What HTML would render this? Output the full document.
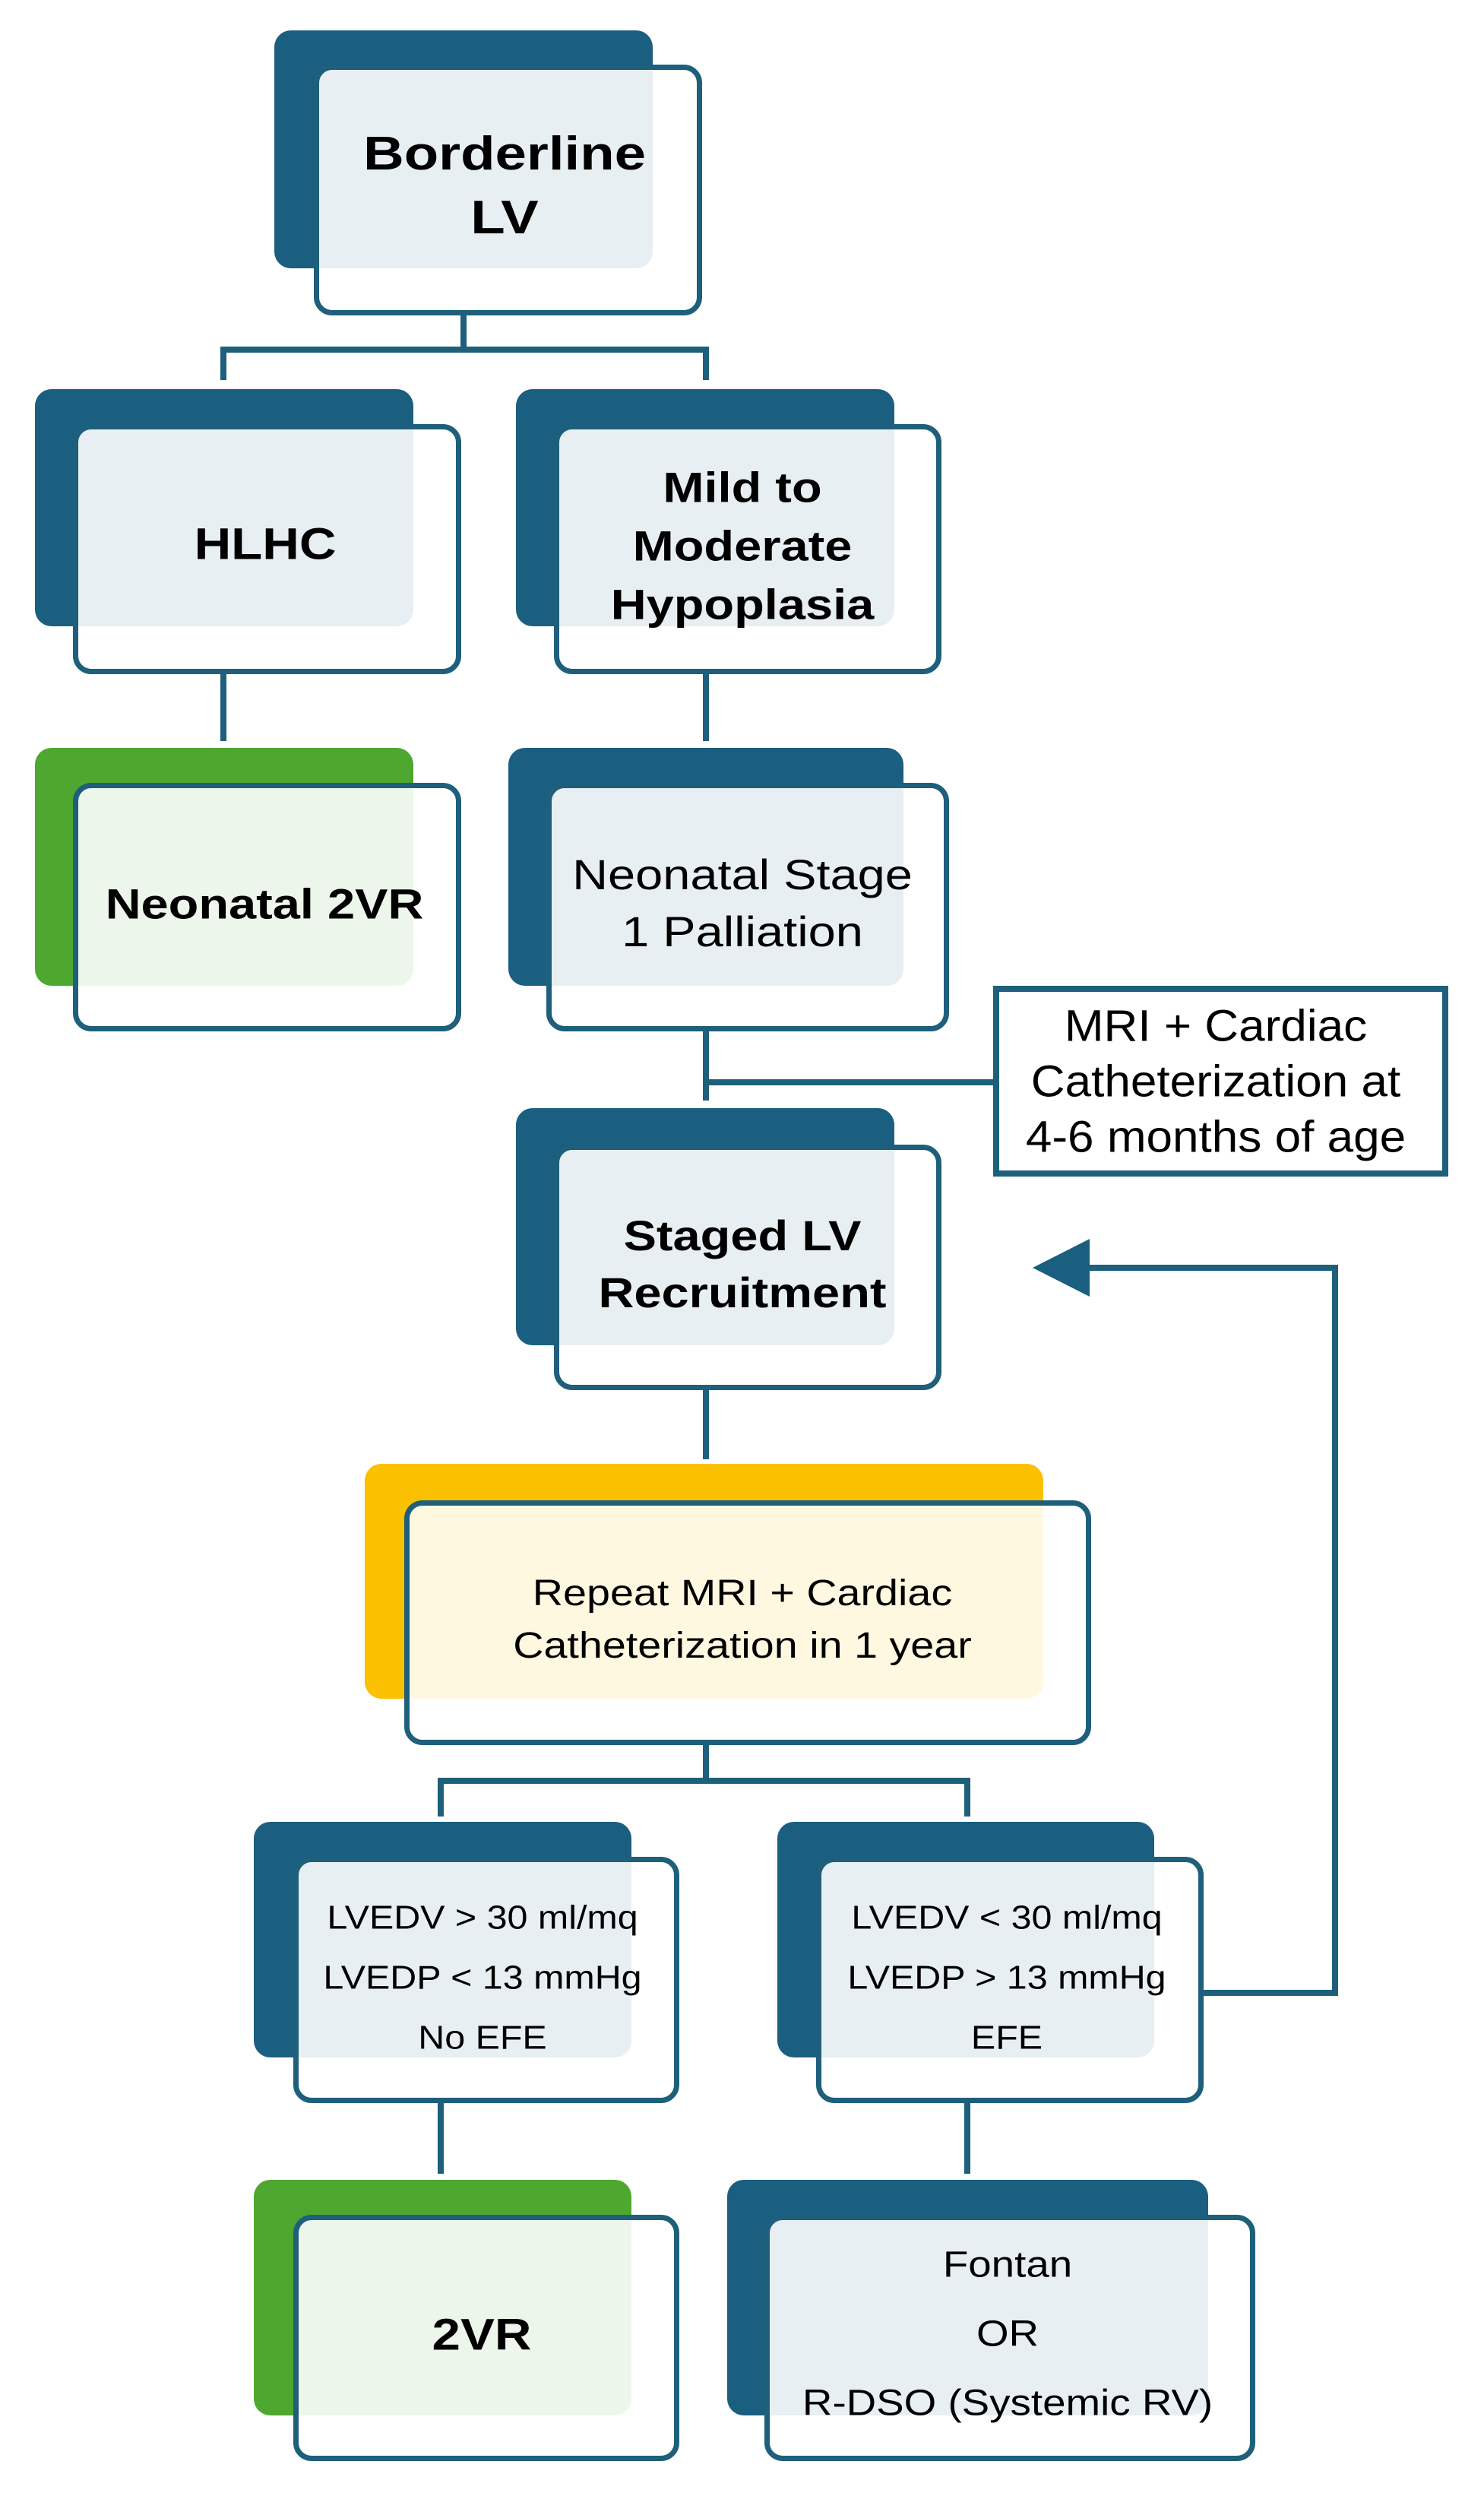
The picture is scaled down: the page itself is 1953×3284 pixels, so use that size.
<!DOCTYPE html>
<html><head><meta charset="utf-8"><style>
html,body{margin:0;padding:0;background:#fff;}
body{width:1953px;height:3284px;position:relative;overflow:hidden;font-family:"Liberation Sans",sans-serif;}
.b{position:absolute;border-radius:22px;}
.d{background:#1a5e80;}
.g{background:#4ea72e;}
.y{background:#fbc000;}
.f{position:absolute;border:7px solid #1e5f7c;border-radius:24px;background:rgba(255,255,255,0.9);box-sizing:border-box;}
.t{position:absolute;text-align:center;color:#000;transform:translate(-50%,-50%) scaleX(1.16);white-space:nowrap;}
.bo{font-weight:bold;}
</style></head><body>
<svg width="1953" height="3284" style="position:absolute;left:0;top:0" xmlns="http://www.w3.org/2000/svg">
<g stroke="#1e5f7c" stroke-width="8" fill="none">
<path d="M610 415 V460 M294 500 V460 H929 V500"/>
<path d="M294 887 V975"/>
<path d="M929 887 V975"/>
<path d="M929 1357 V1448 M929 1424 H1308"/>
<path d="M929 1829 V1920"/>
<path d="M929 2296 V2343 M580 2390 V2343 H1273 V2390"/>
<path d="M580 2767 V2860"/>
<path d="M1273 2767 V2860"/>
<path d="M1584 2622 H1757 V1668 H1420"/>
</g>
<polygon points="1359,1668 1434,1630 1434,1706" fill="#1a5e80"/>
</svg>

<div class="b d" style="left:361px;top:40px;width:498px;height:313px"></div>
<div class="f" style="left:413px;top:85px;width:511px;height:330px"></div>
<div class="t bo" style="left:664px;top:245px;font-size:62px;line-height:84px;transform:translate(-50%,-50%) scaleX(1.2)">Borderline<br>LV</div>

<div class="b d" style="left:46px;top:512px;width:498px;height:312px"></div>
<div class="f" style="left:96px;top:558px;width:511px;height:329px"></div>
<div class="t bo" style="left:349px;top:716px;font-size:58px">HLHC</div>

<div class="b d" style="left:679px;top:512px;width:498px;height:312px"></div>
<div class="f" style="left:729px;top:558px;width:510px;height:329px"></div>
<div class="t bo" style="left:977px;top:718px;font-size:56px;line-height:77px">Mild to<br>Moderate<br>Hypoplasia</div>

<div class="b g" style="left:46px;top:984px;width:498px;height:313px"></div>
<div class="f" style="left:96px;top:1030px;width:511px;height:327px"></div>
<div class="t bo" style="left:348px;top:1189px;font-size:56px">Neonatal 2VR</div>

<div class="b d" style="left:669px;top:984px;width:520px;height:313px"></div>
<div class="f" style="left:719px;top:1030px;width:530px;height:327px"></div>
<div class="t" style="left:977px;top:1188px;font-size:56px;line-height:75px">Neonatal Stage<br>1 Palliation</div>

<div style="position:absolute;left:1307px;top:1297px;width:599px;height:251px;border:8px solid #1e5f7c;box-sizing:border-box;background:#fff"></div>
<div class="t" style="left:1600px;top:1423px;font-size:58px;line-height:73px;transform:translate(-50%,-50%) scaleX(1.07)">MRI + Cardiac<br>Catheterization at<br>4-6 months of age</div>

<div class="b d" style="left:679px;top:1458px;width:498px;height:312px"></div>
<div class="f" style="left:729px;top:1506px;width:510px;height:323px"></div>
<div class="t bo" style="left:977px;top:1663px;font-size:56px;line-height:75px">Staged LV<br>Recruitment</div>

<div class="b y" style="left:480px;top:1926px;width:893px;height:309px"></div>
<div class="f" style="left:532px;top:1974px;width:904px;height:322px;background:rgba(255,255,255,0.88)"></div>
<div class="t" style="left:977px;top:2131px;font-size:48px;line-height:69px">Repeat MRI + Cardiac<br>Catheterization in 1 year</div>

<div class="b d" style="left:334px;top:2397px;width:497px;height:310px"></div>
<div class="f" style="left:386px;top:2443px;width:508px;height:324px"></div>
<div class="t" style="left:635px;top:2602px;font-size:44px;line-height:79px;transform:translate(-50%,-50%) scaleX(1.1)">LVEDV &gt; 30 ml/mq<br>LVEDP &lt; 13 mmHg<br>No EFE</div>

<div class="b d" style="left:1023px;top:2397px;width:496px;height:310px"></div>
<div class="f" style="left:1074px;top:2443px;width:510px;height:324px"></div>
<div class="t" style="left:1325px;top:2602px;font-size:44px;line-height:79px;transform:translate(-50%,-50%) scaleX(1.1)">LVEDV &lt; 30 ml/mq<br>LVEDP &gt; 13 mmHg<br>EFE</div>

<div class="b g" style="left:334px;top:2868px;width:497px;height:310px"></div>
<div class="f" style="left:386px;top:2914px;width:508px;height:324px"></div>
<div class="t bo" style="left:634px;top:3072px;font-size:58px">2VR</div>

<div class="b d" style="left:957px;top:2868px;width:633px;height:310px"></div>
<div class="f" style="left:1006px;top:2914px;width:646px;height:324px"></div>
<div class="t" style="left:1326px;top:3071px;font-size:48px;line-height:91px;transform:translate(-50%,-50%) scaleX(1.14)">Fontan<br>OR<br>R-DSO (Systemic RV)</div>
</body></html>
